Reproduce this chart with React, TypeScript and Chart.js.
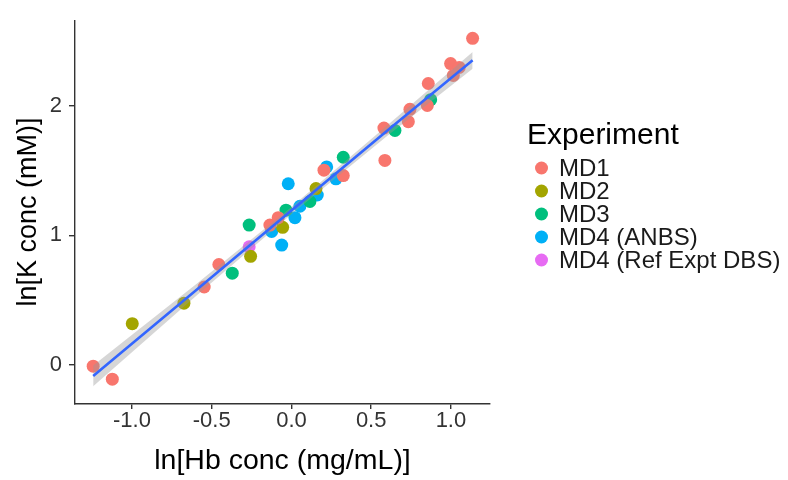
import React, { useEffect, useRef } from 'react';
import { Chart, registerables } from 'chart.js';

Chart.register(...registerables);

const FONT = '"Liberation Sans", Arial, sans-serif';

// ---- data ----
const seriesNames = ['MD1', 'MD2', 'MD3', 'MD4 (ANBS)', 'MD4 (Ref Expt DBS)'];
const seriesColors = ['#F8766D', '#A3A500', '#00BF7D', '#00B0F6', '#E76BF3'];

const md1X = [-1.243, -1.123, -0.547, -0.455, -0.135, -0.083, 0.204, 0.325, 0.58, 0.586, 0.733, 0.743, 0.852, 0.858, 0.998, 1.015, 1.052, 1.136];
const md1Y = [-0.011, -0.111, 0.601, 0.775, 1.08, 1.137, 1.504, 1.462, 1.829, 1.579, 1.879, 1.974, 2.004, 2.174, 2.328, 2.236, 2.298, 2.523];

const md2X = [-0.998, -0.674, -0.256, -0.055, 0.154];
const md2Y = [0.318, 0.476, 0.838, 1.062, 1.362];

const md3X = [-0.371, -0.265, -0.034, 0.116, 0.325, 0.649, 0.873];
const md3Y = [0.708, 1.08, 1.195, 1.262, 1.604, 1.811, 2.049];

const md4aX = [-0.124, -0.061, -0.02, 0.022, 0.053, 0.162, 0.221, 0.279];
const md4aY = [1.03, 0.925, 1.399, 1.137, 1.225, 1.312, 1.529, 1.437];

const md4rX = [-0.265];
const md4rY = [0.912];

const seriesX = [md1X, md2X, md3X, md4aX, md4rX];
const seriesY = [md1Y, md2Y, md3Y, md4aY, md4rY];

// fitted line and its confidence band
const fitX = [-1.243, -0.6, 0.0, 0.6, 1.136];
const fitY = [-0.086, 0.575, 1.192, 1.809, 2.353];
const bandLo = [-0.166, 0.53, 1.164, 1.769, 2.288];
const bandHi = [-0.006, 0.62, 1.22, 1.849, 2.418];

const xTicks = [-1, -0.5, 0, 0.5, 1];
const xTickLabels = ['-1.0', '-0.5', '0.0', '0.5', '1.0'];
const yTicks = [0, 1, 2];
const yTickLabels = ['0', '1', '2'];

const xTitle = 'ln[Hb conc (mg/mL)]';
const yTitle = 'ln[K conc (mM)]';
const legendTitle = 'Experiment';

const xMin = -1.357;
const xMax = 1.245;
const yMin = -0.303;
const yMax = 2.663;

const toPts = (xs: number[], ys: number[]) => xs.map((x, i) => ({ x, y: ys[i] }));

const legendPlugin = {
  id: 'customLegend',
  afterDraw(chart: any) {
    const ctx = chart.ctx as CanvasRenderingContext2D;
    ctx.save();
    ctx.textAlign = 'left';
    ctx.textBaseline = 'alphabetic';
    ctx.fillStyle = '#000';
    ctx.font = `30px ${FONT}`;
    ctx.fillText(legendTitle, 527, 144);
    ctx.font = `24px ${FONT}`;
    ctx.textBaseline = 'middle';
    seriesNames.forEach((name, i) => {
      const cy = 168 + i * 23;
      ctx.beginPath();
      ctx.arc(541.5, cy, 6.5, 0, Math.PI * 2);
      ctx.fillStyle = seriesColors[i];
      ctx.fill();
      ctx.fillStyle = '#1a1a1a';
      ctx.fillText(name, 559, cy + 1);
    });
    ctx.restore();
  },
};

export default function App() {
  const ref = useRef<HTMLCanvasElement | null>(null);

  useEffect(() => {
    if (!ref.current) return;
    Chart.defaults.font.family = FONT;

    const scatterSets = seriesNames.map((name, i) => ({
      type: 'scatter' as const,
      label: name,
      data: toPts(seriesX[i], seriesY[i]),
      backgroundColor: seriesColors[i],
      borderWidth: 0,
      pointRadius: 6.5,
      pointHoverRadius: 6.5,
      order: 3,
    }));

    const chart = new Chart(ref.current, {
      type: 'scatter',
      data: {
        datasets: [
          {
            type: 'line' as const,
            label: 'fit',
            data: toPts(fitX, fitY),
            borderColor: '#3366FF',
            borderWidth: 2.6,
            pointRadius: 0,
            fill: false,
            showLine: true,
            order: 0,
          },
          {
            type: 'line' as const,
            label: 'bandHi',
            data: toPts(fitX, bandHi),
            borderWidth: 0,
            borderColor: 'rgba(0,0,0,0)',
            backgroundColor: 'rgba(153,153,153,0.4)',
            pointRadius: 0,
            fill: '+1',
            showLine: true,
            order: 1,
          },
          {
            type: 'line' as const,
            label: 'bandLo',
            data: toPts(fitX, bandLo),
            borderWidth: 0,
            borderColor: 'rgba(0,0,0,0)',
            pointRadius: 0,
            fill: false,
            showLine: true,
            order: 1,
          },
          ...scatterSets,
        ] as any,
      },
      options: {
        responsive: false,
        animation: false,
        events: [],
        layout: { padding: { left: 0, right: 298, top: 8, bottom: 0 } },
        plugins: {
          legend: { display: false },
          tooltip: { enabled: false },
        },
        scales: {
          x: {
            type: 'linear',
            min: xMin,
            max: xMax,
            afterBuildTicks: (scale: any) => {
              scale.ticks = xTicks.map((v) => ({ value: v }));
            },
            afterFit: (scale: any) => {
              scale.height = 76;
            },
            ticks: {
              color: '#333',
              font: { size: 22 },
              padding: -1,
              autoSkip: false,
              maxRotation: 0,
              callback: (v: any) => {
                const i = xTicks.findIndex((t) => Math.abs(t - Number(v)) < 1e-9);
                return i >= 0 ? xTickLabels[i] : '';
              },
            },
            grid: {
              display: true,
              drawOnChartArea: false,
              drawTicks: true,
              tickLength: 5,
              color: '#333',
              lineWidth: 1.4,
            },
            border: { display: true, color: '#333', width: 1.4 },
            title: {
              display: true,
              text: xTitle,
              color: '#000',
              font: { size: 28.5 },
              padding: { top: 0, bottom: 2 },
            },
          },
          y: {
            type: 'linear',
            min: yMin,
            max: yMax,
            afterBuildTicks: (scale: any) => {
              scale.ticks = yTicks.map((v) => ({ value: v }));
            },
            afterFit: (scale: any) => {
              scale.width = 75;
            },
            ticks: {
              color: '#333',
              font: { size: 22 },
              padding: 7,
              autoSkip: false,
              callback: (v: any) => {
                const i = yTicks.findIndex((t) => Math.abs(t - Number(v)) < 1e-9);
                return i >= 0 ? yTickLabels[i] : '';
              },
            },
            grid: {
              display: true,
              drawOnChartArea: false,
              drawTicks: true,
              tickLength: 6,
              color: '#333',
              lineWidth: 1.4,
            },
            border: { display: true, color: '#333', width: 1.4 },
            title: {
              display: true,
              text: yTitle,
              color: '#000',
              font: { size: 27 },
              padding: { top: 12, bottom: 0 },
            },
          },
        },
      },
      plugins: [legendPlugin],
    });

    return () => chart.destroy();
  }, []);

  return (
    <div style={{ position: 'absolute', left: 0, top: 0, width: 788, height: 480, background: '#fff' }}>
      <canvas ref={ref} width={788} height={480} />
    </div>
  );
}
